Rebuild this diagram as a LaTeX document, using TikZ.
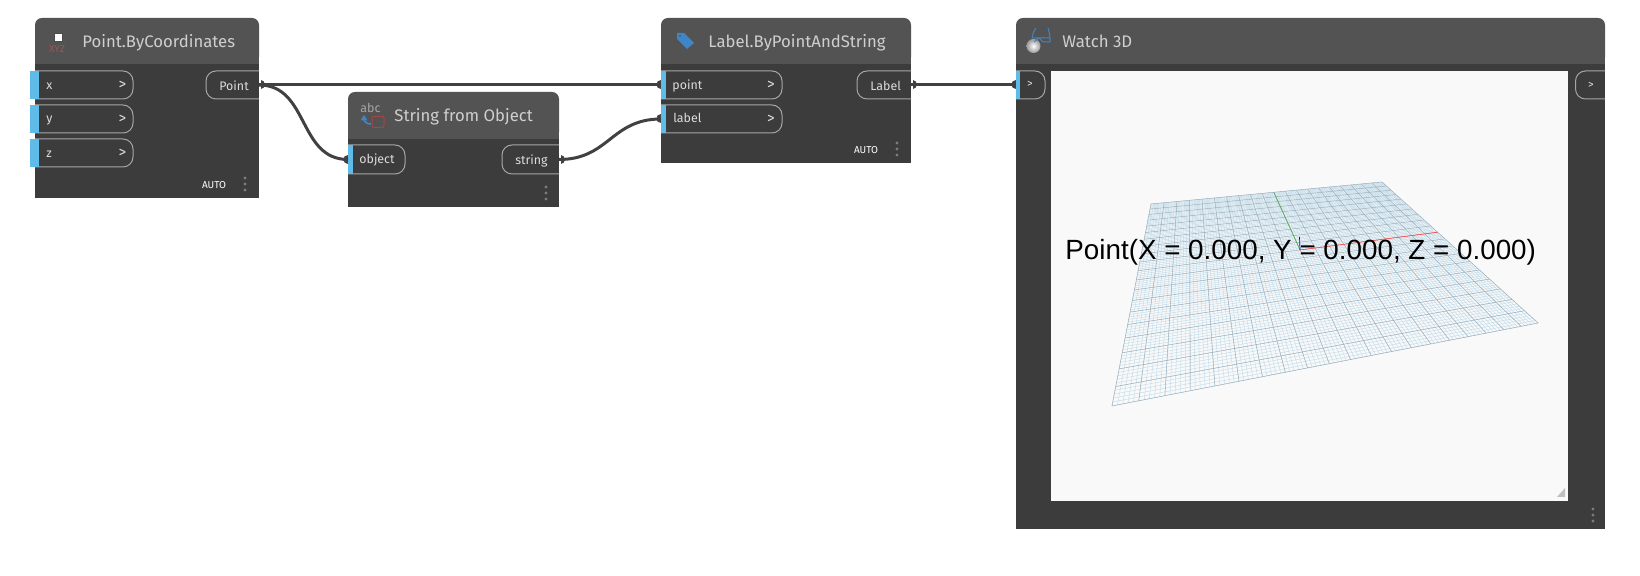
\documentclass[tikz,border=0pt]{standalone}
\usepackage{fontspec}
\setmainfont{Fira Sans}
\newfontfamily\arialf{Liberation Sans}
\usetikzlibrary{calc}
\definecolor{bodyc}{HTML}{3C3C3C}
\definecolor{headc}{HTML}{535353}
\definecolor{barc}{HTML}{5FBCE8}
\definecolor{pillc}{HTML}{A6A6A6}
\definecolor{txtc}{HTML}{DCDCDC}
\definecolor{titlec}{HTML}{CFCFCF}
\definecolor{wirec}{HTML}{414141}
\definecolor{haloc}{HTML}{D8D8D8}
\definecolor{viewc}{HTML}{F9F9F9}
\definecolor{dotc}{HTML}{7C7C7C}
\definecolor{minorc}{HTML}{C2DCEA}
\definecolor{majorc}{HTML}{9DAEB8}
\definecolor{iconb}{HTML}{3F86C8}
\definecolor{iconr}{HTML}{A84444}
\tikzset{
  x=0.5pt,y=-0.5pt,
  boxnode/.style={rectangle,inner sep=0pt,outer sep=0pt},
  pillline/.style={draw=pillc,line width=0.5pt,rounded corners=5pt},
  titletxt/.style={anchor=base west,inner sep=0pt,text=titlec,font=\fontsize{8.35}{10}\selectfont},
  porttxt/.style={anchor=base west,inner sep=0pt,text=txtc,yshift=-0.4pt,font=\fontsize{6.2}{7}\selectfont},
  gttxt/.style={anchor=center,inner sep=0pt,text=txtc,font=\fontsize{7.6}{8}\selectfont},
  autotxt/.style={anchor=center,inner sep=0pt,text=white,yshift=-0.4pt,font=\fontsize{5}{6}\selectfont},
  wire/.style={draw=wirec,line width=1.5pt},
  halo/.style={draw=haloc,line width=1pt,yshift=0.75pt},
  gridminor/.style={draw=minorc,line width=0.22pt},
  gridmajor/.style={draw=majorc,line width=0.22pt},
}
% homography from the unit square to the floor grid
\pgfmathdeclarefunction{hx}{2}{\pgfmathparse{(416.51*#1-602.67*#2+1151)/(0.13423*#1-0.5069*#2+1)}}
\pgfmathdeclarefunction{hy}{2}{\pgfmathparse{(2.43*#1-3.80*#2+204)/(0.13423*#1-0.5069*#2+1)}}
% {name}{x1}{x2}{ytop}{yhead}{ybottom}
\newcommand\dynbox[6]{%
  \node[boxnode,minimum width={(#3-#2)*0.5pt},minimum height={(#6-#4)*0.5pt}] (#1) at ({(#2+#3)/2},{(#4+#6)/2}) {};
  \fill[headc,rounded corners=3.5pt] (#2,#5) -- (#2,#4) -- (#3,#4) -- (#3,#5) -- cycle;
  \fill[headc] (#2,#4+12) rectangle (#3,#5);
  \fill[bodyc] (#2,#5) rectangle (#3,#6);
}
% {name}{x1}{x2}{ytop}{ybottom}{barx1}{barx2}
\newcommand\inpill[7]{%
  \node[boxnode,minimum width={(#3-#2)*0.5pt},minimum height={(#5-#4)*0.5pt}] (#1) at ({(#2+#3)/2},{(#4+#5)/2}) {};
  \draw[pillline] (#1.north west) -- (#1.north east) -- (#1.south east) -- (#1.south west);
  \fill[barc] (#6,#4) rectangle (#7,#5);
}
\newcommand\outpill[5]{%
  \node[boxnode,minimum width={(#3-#2)*0.5pt},minimum height={(#5-#4)*0.5pt}] (#1) at ({(#2+#3)/2},{(#4+#5)/2}) {};
  \draw[pillline] (#1.north east) -- (#1.north west) -- (#1.south west) -- (#1.south east);
}
\newcommand\threedots[2]{%
  \fill[dotc] (#1,#2-6) circle (1.6);
  \fill[dotc] (#1,#2) circle (1.6);
  \fill[dotc] (#1,#2+6) circle (1.6);
}
\newcommand\wireIn[1]{\fill[wirec] ($(#1)+(0,-4.5)$) .. controls ($(#1)+(-6,-4.5)$) and ($(#1)+(-6,4.5)$) .. ($(#1)+(0,4.5)$) -- cycle;}
\newcommand\wireOut[1]{\fill[wirec] ($(#1)+(1.5,-4.5)$) .. controls ($(#1)+(7,-4.5)$) and ($(#1)+(7,4.5)$) .. ($(#1)+(1.5,4.5)$) -- cycle;}
\begin{document}
\begin{tikzpicture}
\useasboundingbox (0,0) rectangle (1640,576);
\fill[white] (0,0) rectangle (1640,576);

%% Point.ByCoordinates
\dynbox{pnode}{35}{259}{18}{64}{198}
\fill[white,draw=black!70,line width=0.4pt] (54,33.5) rectangle (62,41);
\node[inner sep=0pt,text=iconr!75!gray,font=\fontsize{5}{6}\selectfont] (picon) at (57,49.5) {XYZ};
\node[titletxt] (ptitle) at (82,47.5) {Point.ByCoordinates};
\inpill{px}{35}{133}{71}{99}{30}{39}
\inpill{py}{35}{133}{105}{133}{30}{39}
\inpill{pz}{35}{133}{139}{167}{30}{39}
\node[porttxt] (pxt) at (46,89) {x};
\node[porttxt] (pyt) at (46,122) {y};
\node[porttxt] (pzt) at (46,157) {z};
\node[gttxt] (pxg) at (122.5,85) {>};
\node[gttxt] (pyg) at (122.5,119) {>};
\node[gttxt] (pzg) at (122.5,153) {>};
\outpill{pout}{206}{259}{71}{99}
\node[porttxt] (poutt) at (219,90) {Point};
\node[autotxt] (pauto) at (214,184) {AUTO};
\threedots{245}{184}

%% String from Object
\dynbox{snode}{348}{559}{92}{139}{207}
\node[inner sep=0pt,text=black!35,anchor=base west,font=\fontsize{6.2}{7}\selectfont] (sabc) at (360,113) {abc};
\draw[iconr,line width=0.5pt,rounded corners=1pt] (372,116.5) rectangle (384,127.5);
\draw[iconb,line width=0.8pt] (371,124) .. controls (367,124) and (364,122) .. (364,119);
\fill[iconb] (364,115) -- (367.5,120.5) -- (360.5,120.5) -- cycle;
\node[titletxt] (stitle) at (394,121.5) {String from Object};
\inpill{sobj}{348}{405}{145}{174}{348}{353}
\node[porttxt] (sobjt) at (359,163) {object};
\outpill{sout}{502}{559}{145}{174}
\node[porttxt] (soutt) at (515,164) {string};
\threedots{546}{193}

%% Label.ByPointAndString
\dynbox{lnode}{661}{911}{18}{64}{163}
\fill[iconb] (677,33) -- (684,33) -- (694,43) -- (687,49) -- (677,39) -- cycle;
\fill[headc] (680,36) circle (1);
\node[titletxt] (ltitle) at (708,47.5) {Label.ByPointAndString};
\inpill{lpoint}{661}{782}{71}{99}{661}{666}
\inpill{llabel}{661}{782}{105}{133}{661}{666}
\node[porttxt] (lpointt) at (672,89) {point};
\node[porttxt] (llabelt) at (673,122) {label};
\node[gttxt] (lpg) at (771,85) {>};
\node[gttxt] (llg) at (771,119) {>};
\outpill{lout}{857}{911}{71}{99}
\node[porttxt] (loutt) at (870,90) {Label};
\node[autotxt] (lauto) at (866,149) {AUTO};
\threedots{897}{149}

%% Watch 3D
\dynbox{wnode}{1016}{1605}{18}{64}{529}
\shade[inner color=white,outer color=black!40] (1033.5,46) circle (7);
\draw[iconb,line width=0.5pt] (1032,38) .. controls (1033,33) and (1034,30) .. (1036,28) (1048,28) .. controls (1049,32) and (1050,35) .. (1050,38) -- (1050,42) -- (1043,42) -- (1039,38) -- (1034,42) (1032,38) -- (1050,38);
\node[titletxt,font=\fontsize{8.4}{10}\selectfont] (wtitle) at (1062,47.5) {Watch 3D};
\node[boxnode,fill=viewc,minimum width=258.5pt,minimum height=215pt] (wview) at ({(1051+1568)/2},{(71+501)/2}) {};
\inpill{win}{1016}{1045}{71}{99}{1015.5}{1020}
\node[gttxt,font=\fontsize{5.6}{6}\selectfont] (wing) at (1030,84.5) {>};
\outpill{wout}{1575.5}{1605}{71}{99}
\node[gttxt,font=\fontsize{5.6}{6}\selectfont] (woutg) at (1591,85.5) {>};
\fill[black!25] (1565,488) -- (1565,497) -- (1557,497) -- cycle;
\threedots{1593}{515}

%% floor grid
\foreach \i in {0,...,100}{
  \pgfmathsetmacro\uu{\i/100}
  \pgfmathsetmacro\aax{hx(\uu,0)}\pgfmathsetmacro\aay{hy(\uu,0)}
  \pgfmathsetmacro\bbx{hx(\uu,1)}\pgfmathsetmacro\bby{hy(\uu,1)}
  \pgfmathsetmacro\ccx{hx(0,\uu)}\pgfmathsetmacro\ccy{hy(0,\uu)}
  \pgfmathsetmacro\ddx{hx(1,\uu)}\pgfmathsetmacro\ddy{hy(1,\uu)}
  \draw[gridminor] (\aax,\aay) -- (\bbx,\bby);
  \draw[gridminor] (\ccx,\ccy) -- (\ddx,\ddy);
}
\foreach \i in {0,5,...,100}{
  \pgfmathsetmacro\uu{\i/100}
  \pgfmathsetmacro\aax{hx(\uu,0)}\pgfmathsetmacro\aay{hy(\uu,0)}
  \pgfmathsetmacro\bbx{hx(\uu,1)}\pgfmathsetmacro\bby{hy(\uu,1)}
  \pgfmathsetmacro\ccx{hx(0,\uu)}\pgfmathsetmacro\ccy{hy(0,\uu)}
  \pgfmathsetmacro\ddx{hx(1,\uu)}\pgfmathsetmacro\ddy{hy(1,\uu)}
  \draw[gridmajor] (\aax,\aay) -- (\bbx,\bby);
  \draw[gridmajor] (\ccx,\ccy) -- (\ddx,\ddy);
}
\coordinate (origin) at (1300,250);
\draw[green!50!black!70!white,line width=0.3pt] (origin) -- (1273.8,192.3);
\draw[red!70!white,line width=0.35pt] (origin) -- (1437.7,232.2);
\draw[blue,line width=0.35pt] (origin) -- (1299.5,237);
\node[anchor=base west,inner sep=0pt,text=black,font=\arialf\fontsize{13.9}{15}\selectfont] (wlabel) at (1065,259.5) {Point(X = 0.000, Y = 0.000, Z = 0.000)};

%% connectors
\draw[halo] (pout.east) -- (lpoint.west);
\draw[halo] (lout.east) -- (win.west);
\draw[wire] (pout.east) -- (lpoint.west);
\draw[wire] (pout.east) .. controls ($(pout.east)+(50,0)$) and ($(sobj.west)+(-50,0)$) .. (sobj.west);
\draw[wire] (sout.east) .. controls ($(sout.east)+(50,0)$) and ($(llabel.west)+(-50,0)$) .. (llabel.west);
\draw[wire] (lout.east) -- (win.west);
\wireOut{pout.east}\wireOut{sout.east}\wireOut{lout.east}
\wireIn{lpoint.west}\wireIn{llabel.west}\wireIn{sobj.west}\wireIn{win.west}
\end{tikzpicture}
\end{document}
